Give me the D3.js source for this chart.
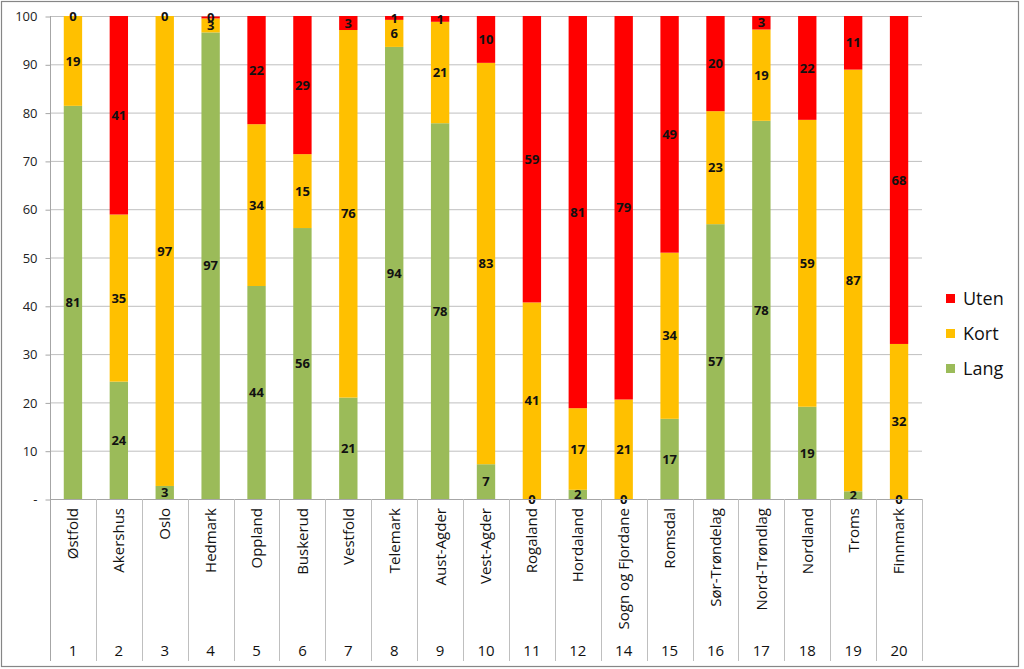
<!DOCTYPE html>
<html><head><meta charset="utf-8">
<script src="https://cdn.jsdelivr.net/npm/d3@7"></script>
<style>
html,body{margin:0;padding:0;background:#fff;}
svg{display:block;font-family:"Open Sans",Calibri,sans-serif;}
</style></head>
<body>
<svg id="c" width="1024" height="669"></svg>
<script>
const categories = ["Østfold","Akershus","Oslo","Hedmark","Oppland","Buskerud","Vestfold","Telemark","Aust-Agder","Vest-Agder","Rogaland","Hordaland","Sogn og Fjordane","Romsdal","Sør-Trøndelag","Nord-Trøndlag","Nordland","Troms","Finnmark"];
const numbers = ["1","2","3","4","5","6","7","8","9","10","11","12","14","15","16","17","18","19","20"];
const lang = [81.4,24.3,2.7,96.6,44.1,56.1,21.0,93.6,77.8,7.2,0,1.9,0,16.6,56.9,78.3,19.1,1.6,0];
const kort = [18.6,34.6,97.3,2.9,33.5,15.3,76.1,5.6,21.0,83.1,40.7,16.9,20.6,34.4,23.4,18.9,59.4,87.3,32.1];
const uten = [0,41.1,0,0.4,22.4,28.6,2.9,0.8,1.2,9.7,59.3,81.2,79.4,49.0,19.7,2.8,21.5,11.1,67.9];
const seriesNames = ["Lang","Kort","Uten"];
const colors = ["#9BBB59","#FFC000","#FF0000"];
const yTicks = [0,10,20,30,40,50,60,70,80,90,100];

const svg = d3.select("#c");
const L=50, R=922, T=16, B=499, BOT=661;

// outer frame
svg.append("rect").attr("x",1.5).attr("y",1.5).attr("width",1017).attr("height",665)
  .attr("fill","#fff").attr("stroke","#868686").attr("stroke-width",1.2);

const x = d3.scaleBand().domain(categories).range([L,R]).paddingInner(0.6).paddingOuter(0.3);
const y = d3.scaleLinear().domain([0,100]).range([B,T]);

// gridlines
svg.append("g").selectAll("line").data(yTicks.filter(d=>d>0)).join("line")
  .attr("x1",L).attr("x2",R).attr("y1",d=>y(d)+0.5).attr("y2",d=>y(d)+0.5)
  .attr("stroke","#BFBFBF").attr("stroke-width",1);

// y axis
const yAxis = d3.axisLeft(y).tickValues(yTicks).tickSize(5).tickPadding(8)
  .tickFormat(d=>d===0?"-":d);
const gy = svg.append("g").attr("transform",`translate(${L+0.5},0.5)`).call(yAxis);
gy.select(".domain").remove();
gy.selectAll(".tick line").attr("stroke","#A6A6A6");
gy.selectAll(".tick text").attr("font-size",13).attr("fill","#222").attr("font-family","'Open Sans',sans-serif");

// stacked data
const rows = categories.map((c,i)=>({cat:c, Lang:lang[i], Kort:kort[i], Uten:uten[i]}));
const stack = d3.stack().keys(seriesNames)(rows);

const g = svg.append("g");
stack.forEach((s,si)=>{
  g.append("g").selectAll("rect").data(s).join("rect")
    .attr("x",d=>x(d.data.cat)).attr("width",x.bandwidth())
    .attr("y",d=>y(d[1])).attr("height",d=>y(d[0])-y(d[1]))
    .attr("fill",colors[si]);
});

// axis lines
svg.append("line").attr("x1",L+0.5).attr("x2",L+0.5).attr("y1",T).attr("y2",BOT).attr("stroke","#A6A6A6");
svg.append("line").attr("x1",L).attr("x2",R).attr("y1",B+0.5).attr("y2",B+0.5).attr("stroke","#A6A6A6");
// category separators
const step = x.step();
svg.append("g").selectAll("line").data(d3.range(1,categories.length+1)).join("line")
  .attr("x1",i=>Math.round(L+i*step)+0.5).attr("x2",i=>Math.round(L+i*step)+0.5)
  .attr("y1",B).attr("y2",BOT).attr("stroke","#BFBFBF");

// data labels
stack.forEach((s,si)=>{
  g.append("g").selectAll("text").data(s).join("text")
    .attr("x",d=>x(d.data.cat)+x.bandwidth()/2)
    .attr("y",d=>y((d[0]+d[1])/2))
    .attr("dy","0.36em").attr("text-anchor","middle")
    .attr("font-size",13).attr("font-weight","bold").attr("fill","#111")
    .text(d=>Math.round(d.data[seriesNames[si]]));
});

// category labels (rotated)
svg.append("g").selectAll("text").data(categories).join("text")
  .attr("transform",d=>`translate(${x(d)+x.bandwidth()/2},${B+9}) rotate(-90)`)
  .attr("text-anchor","end").attr("dy","0.36em")
  .attr("font-size",15).attr("fill","#111")
  .text(d=>d);
// numbers
svg.append("g").selectAll("text").data(numbers).join("text")
  .attr("x",(d,i)=>x(categories[i])+x.bandwidth()/2).attr("y",656)
  .attr("text-anchor","middle").attr("font-size",15).attr("fill","#111")
  .text(d=>d);

// legend
const legItems = [2,1,0];
const lg = svg.append("g");
legItems.forEach((si,k)=>{
  const cy = 299 + k*35;
  lg.append("rect").attr("x",946).attr("y",cy-5).attr("width",9).attr("height",9).attr("fill",colors[si]);
  lg.append("text").attr("x",963).attr("y",cy).attr("dy","0.36em")
    .attr("font-size",18).attr("fill","#111").text(seriesNames[si]);
});
</script>
</body></html>
